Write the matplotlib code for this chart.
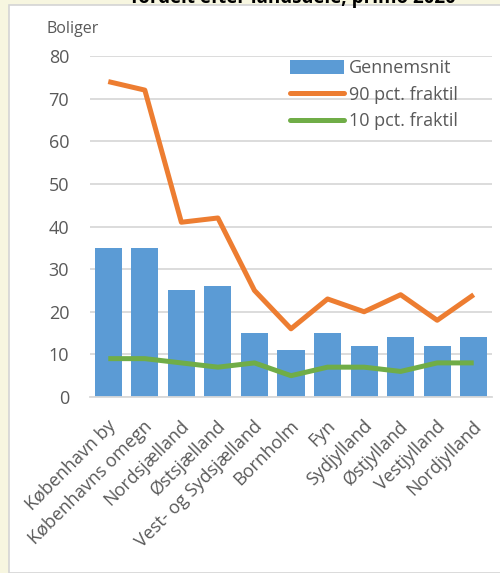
import matplotlib
matplotlib.use("Agg")
import matplotlib.pyplot as plt
import matplotlib.transforms as mtransforms
from matplotlib.patches import Rectangle
from matplotlib.lines import Line2D
from matplotlib.patches import Patch

regions = ["København by", "Københavns omegn", "Nordsjælland", "Østsjælland",
           "Vest- og Sydsjælland", "Bornholm", "Fyn", "Sydjylland",
           "Østjylland", "Vestjylland", "Nordjylland"]
gennemsnit = [35, 35, 25, 26, 15, 11, 15, 12, 14, 12, 14]
fraktil_90 = [74, 72, 41, 42, 25, 16, 23, 20, 24, 18, 24]
fraktil_10 = [9, 9, 8, 7, 8, 5, 7, 7, 6, 8, 8]
y_ticks = [0, 10, 20, 30, 40, 50, 60, 70, 80]

plt.rcParams['font.family'] = ['Open Sans', 'DejaVu Sans']
TXT = '#595959'
FS = 13
W, H = 500, 573
fig = plt.figure(figsize=(W / 100, H / 100), dpi=100)
fig.patch.set_facecolor('#F7F6E0')

# white chart panel with thin grey frame
panel = Rectangle((9 / W, 0), 1 - 9 / W + 0.01, 1 - 5 / H, transform=fig.transFigure,
                  facecolor='white', edgecolor='#D4D4D4', linewidth=1.2, zorder=-5)
fig.patches.append(panel)

fig.text(293 / W, 1 - 2.5 / H, "fordelt efter landsdele, primo 2020", ha='center',
         va='baseline', fontsize=13.5, fontweight='bold', color='black')

ax = fig.add_axes([90 / W, 1 - 397 / H, 402 / W, (397 - 56) / H])
ax.set_zorder(2)
ax.set_facecolor('none')
x = range(len(regions))
ax.bar(x, gennemsnit, width=0.74, color='#5B9BD5', zorder=2, label='Gennemsnit')
ax.plot(x, fraktil_90, color='#ED7D31', lw=3.6, solid_joinstyle='round',
        solid_capstyle='butt', zorder=3, label='90 pct. fraktil')
ax.plot(x, fraktil_10, color='#70AD47', lw=3.6, solid_joinstyle='round',
        solid_capstyle='butt', zorder=3, label='10 pct. fraktil')

ax.set_xlim(-0.5, len(regions) - 0.5)
ax.set_ylim(0, 80)
ax.set_yticks(y_ticks)
ax.grid(axis='y', color='#D9D9D9', linewidth=1.3, zorder=0)
ax.set_axisbelow(True)
for s in ['top', 'right', 'left']:
    ax.spines[s].set_visible(False)
ax.spines['bottom'].set_color('#D9D9D9')
ax.spines['bottom'].set_linewidth(1.3)
ax.tick_params(axis='both', length=0, colors=TXT, labelsize=FS)
ax.tick_params(axis='y', pad=15)
ax.set_xticks(list(x))
ax.set_xticklabels(regions, rotation=45, ha='right', va='center',
                   rotation_mode='anchor', fontsize=FS, color=TXT)
ax.tick_params(axis='x', pad=19)
# nudge the slanted category labels a little to the right
shift = mtransforms.ScaledTranslation(5 / 100, 0, fig.dpi_scale_trans)
for lbl in ax.get_xticklabels():
    lbl.set_transform(lbl.get_transform() + shift)

fig.text(47 / W, 1 - 29 / H, "Boliger", ha='left', va='center', fontsize=11.5, color=TXT)

handles = [Patch(facecolor='#5B9BD5', edgecolor='none'),
           Line2D([], [], color='#ED7D31', lw=3.6, solid_capstyle='round'),
           Line2D([], [], color='#70AD47', lw=3.6, solid_capstyle='round')]
leg = ax.legend(handles, ['Gennemsnit', '90 pct. fraktil', '10 pct. fraktil'],
                loc='upper left', bbox_to_anchor=(281 / W, 1 - 50 / H),
                bbox_transform=fig.transFigure, frameon=False, fontsize=FS,
                handlelength=3.0, handleheight=0.8, handletextpad=0.25,
                labelspacing=0.48, borderpad=0)
for t in leg.get_texts():
    t.set_color(TXT)

fig.savefig("out.png", dpi=100, facecolor=fig.get_facecolor())
